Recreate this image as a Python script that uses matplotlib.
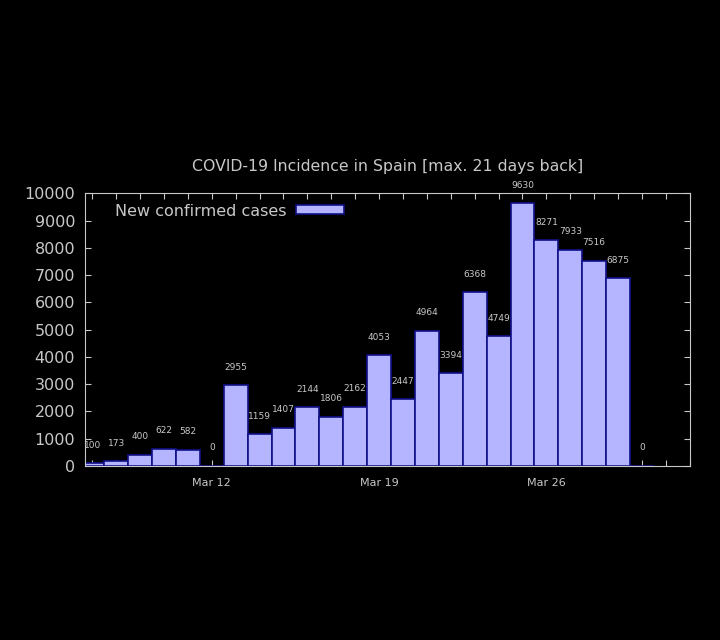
import datetime as dt
import matplotlib
matplotlib.use("Agg")
import matplotlib.pyplot as plt
import matplotlib.dates as mdates

# daily new confirmed cases, Spain, March 2020
days = list(range(7, 31))
cases = [100, 173, 400, 622, 582, 0, 2955, 1159, 1407, 2144, 1806, 2162,
         4053, 2447, 4964, 3394, 6368, 4749, 9630, 8271, 7933, 7516, 6875, 0]
dates = [dt.datetime(2020, 3, d) for d in days]

fg = "#c8c8c8"
fill = "#b4b4ff"
edge = "#10108a"

fig = plt.figure(figsize=(7.2, 6.4), dpi=100, facecolor="black")
ax = fig.add_axes([0.118, 0.272, 0.840, 0.426], facecolor="black")
ax.set_axisbelow(True)

ax.bar(dates, cases, width=1.0, color=fill, edgecolor=edge, linewidth=1.2,
       label="New confirmed cases", zorder=2)

# value labels above the bars
for d, v in zip(dates, cases):
    ax.annotate(str(v), (d, v), xytext=(0, 13), textcoords="offset points",
                ha="center", va="center", fontsize=6.5, color=fg,
                annotation_clip=False)

ax.set_xlim(dt.datetime(2020, 3, 6, 16, 40), dt.datetime(2020, 4, 1))
ax.set_ylim(0, 10000)
ax.set_yticks(range(0, 10001, 1000))

ax.xaxis.set_major_locator(mdates.DayLocator(bymonthday=[12, 19, 26]))
ax.xaxis.set_major_formatter(mdates.DateFormatter("%b %d"))
ax.xaxis.set_minor_locator(mdates.DayLocator())

ax.tick_params(which="both", direction="in", top=True, right=True,
               color=fg, length=4.5, width=0.8)
ax.tick_params(axis="x", which="major", labelsize=8, labelcolor=fg, pad=9)
ax.tick_params(axis="y", labelsize=11.5, labelcolor=fg, pad=7)
for s in ax.spines.values():
    s.set_color(fg)
    s.set_linewidth(0.8)
    s.set_zorder(3)

ax.set_title("COVID-19 Incidence in Spain [max. 21 days back]",
             color=fg, fontsize=11.3, pad=16)

leg = ax.legend(loc="upper left", bbox_to_anchor=(0.026, 1.015), frameon=False,
                markerfirst=False, fontsize=11.5, labelcolor=fg,
                handlelength=3.0, handleheight=0.5, handletextpad=0.6)

fig.savefig("out.png", dpi=100, facecolor="black")
